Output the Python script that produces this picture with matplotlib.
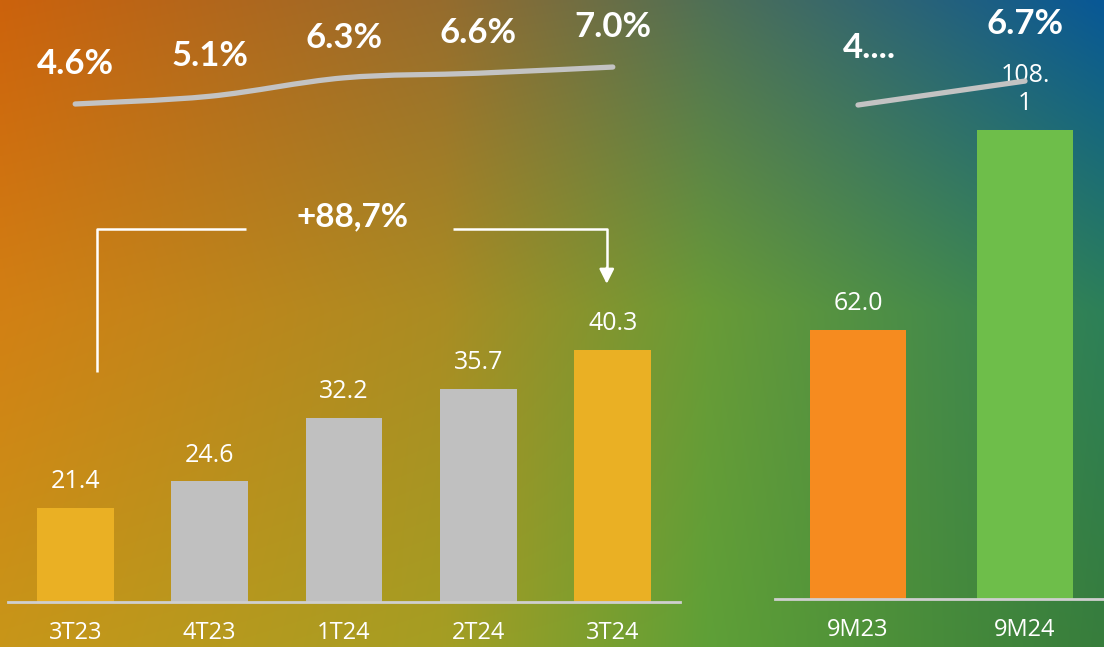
import numpy as np
import matplotlib
matplotlib.use('Agg')
import matplotlib.pyplot as plt
from matplotlib.path import Path
from matplotlib.patches import PathPatch

# left panel: quarterly values
q_labels = ['3T23', '4T23', '1T24', '2T24', '3T24']
q_values = [21.4, 24.6, 32.2, 35.7, 40.3]
q_colors = ['#EAB024', '#C0C0C0', '#C0C0C0', '#C0C0C0', '#EAB024']
q_pct = [4.6, 5.1, 6.3, 6.6, 7.0]
q_pct_labels = ['4.6%', '5.1%', '6.3%', '6.6%', '7.0%']
growth_label = '+88,7%'

# right panel: nine months
m_labels = ['9M23', '9M24']
m_values = [62.0, 108.1]
m_value_labels = ['62.0', '108.\n1']
m_colors = ['#F68B1F', '#6EBE4A']
m_pct = [4.9, 6.7]
m_pct_labels = ['4....', '6.7%']

W, H = 1104, 647
fig = plt.figure(figsize=(W / 100, H / 100), dpi=100)

# background gradient
grid = np.array([
    [[204, 98, 12], [150, 108, 45], [80, 112, 85], [8, 88, 150]],
    [[210, 128, 20], [170, 140, 35], [105, 155, 55], [45, 128, 88]],
    [[200, 150, 25], [165, 158, 35], [95, 160, 55], [55, 125, 60]],
], dtype=float) / 255
gx = np.array([0.0, 0.4, 0.64, 1.0])
gy = np.array([0.0, 0.48, 1.0])
xs = np.linspace(0, 1, 300)
ys = np.linspace(0, 1, 200)
rows = np.empty((3, len(xs), 3))
for i in range(3):
    for c in range(3):
        rows[i, :, c] = np.interp(xs, gx, grid[i, :, c])
img = np.empty((len(ys), len(xs), 3))
for j in range(len(xs)):
    for c in range(3):
        img[:, j, c] = np.interp(ys, gy, rows[:, j, c])
bg = fig.add_axes([0, 0, 1, 1])
bg.imshow(img, aspect='auto', extent=[0, 1, 0, 1], interpolation='bilinear')
bg.axis('off')

val_font = 'Open Sans'
pct_font = 'Lato'


def px_rect(x0, x1, y_base, y_top=0):
    # pixel box (from top) -> figure fraction
    return [x0 / W, (H - y_base) / H, (x1 - x0) / W, (y_base - y_top) / H]


def smooth_path(xv, yv):
    # bezier through points (catmull-rom style)
    pts = np.column_stack([xv, yv])
    verts = [pts[0]]
    codes = [Path.MOVETO]
    n = len(pts)
    for i in range(n - 1):
        p0 = pts[i - 1] if i > 0 else pts[i]
        p1 = pts[i]
        p2 = pts[i + 1]
        p3 = pts[i + 2] if i + 2 < n else pts[i + 1]
        c1 = p1 + (p2 - p0) / 6
        c2 = p2 - (p3 - p1) / 6
        verts += [c1, c2, p2]
        codes += [Path.CURVE4] * 3
    return Path(verts, codes)


def style_axes(ax):
    for s in ['top', 'left', 'right']:
        ax.spines[s].set_visible(False)
    ax.spines['bottom'].set_color('#CFCFCF')
    ax.spines['bottom'].set_linewidth(2)
    ax.set_yticks([])
    ax.tick_params(axis='x', length=0, pad=14, colors='white', labelsize=17)
    for t in ax.get_xticklabels():
        t.set_fontfamily(val_font)
    ax.patch.set_visible(False)


# ---- left bars
ax1 = fig.add_axes(px_rect(8, 680, 602))
x1 = np.arange(len(q_labels))
ax1.bar(x1, q_values, width=0.57, color=q_colors)
ax1.set_xlim(-0.5, 4.5)
ax1.set_ylim(10.17, 82.2)
ax1.set_xticks(x1)
ax1.set_xticklabels(q_labels)
style_axes(ax1)
for xi, v in zip(x1, q_values):
    ax1.annotate(f'{v:.1f}', (xi, v), xytext=(0, 10), textcoords='offset points',
                 ha='center', va='bottom', color='white', fontsize=18, family=val_font)

# bracket with arrow
ax1.plot([0.16, 0.16, 1.27], [37.7, 54.8, 54.8], color='white', lw=1.8, solid_capstyle='butt')
ax1.plot([2.81, 3.955, 3.955], [54.8, 54.8, 49.5], color='white', lw=1.8, solid_capstyle='butt')
ax1.annotate('', xy=(3.955, 47.9), xytext=(3.955, 50.5),
             arrowprops=dict(arrowstyle='-|>', color='white', lw=1.8, mutation_scale=22))
ax1.text(2.06, 56.3, growth_label, ha='center', va='center', color='white',
         fontsize=24, fontweight='bold', family=pct_font)

# left line
lx = fig.add_axes(px_rect(8, 680, 602), sharex=ax1)
lx.set_ylim(4.6 - (602 - 104) / 15.4, 4.6 + 104 / 15.4)
lx.axis('off')
lx.add_patch(PathPatch(smooth_path(x1, q_pct), fill=False, edgecolor='#C3C3C3',
                       lw=3.8, capstyle='round'))
for xi, v, s in zip(x1, q_pct, q_pct_labels):
    lx.annotate(s, (xi, v), xytext=(0, 29), textcoords='offset points', ha='center',
                va='center', color='white', fontsize=25, fontweight='bold', family=pct_font)

# ---- right bars
ax2 = fig.add_axes(px_rect(775, 1104, 599))
x2 = np.arange(len(m_labels))
ax2.bar(x2, m_values, width=0.575, color=m_colors)
ax2.set_xlim(-0.497, 1.473)
ax2.set_ylim(0, 138)
ax2.set_xticks(x2)
ax2.set_xticklabels(m_labels)
style_axes(ax2)
for xi, v, s in zip(x2, m_values, m_value_labels):
    ax2.annotate(s, (xi, v), xytext=(0, 10), textcoords='offset points', ha='center',
                 va='bottom', color='white', fontsize=18, family=val_font, linespacing=1.15)

rx = fig.add_axes(px_rect(775, 1104, 599), sharex=ax2)
rx.set_ylim(4.9 - (599 - 105) / 13.3, 4.9 + 105 / 13.3)
rx.axis('off')
rx.plot(x2, m_pct, color='#C3C3C3', lw=3.8, solid_capstyle='round')
for xi, v, s, off in zip(x2, m_pct, m_pct_labels, [41, 41]):
    rx.annotate(s, (xi + 0.07 if s == '4....' else xi, v), xytext=(0, off),
                textcoords='offset points', ha='center', va='center', color='white',
                fontsize=25, fontweight='bold', family=pct_font)

fig.savefig('out.png', dpi=100)
